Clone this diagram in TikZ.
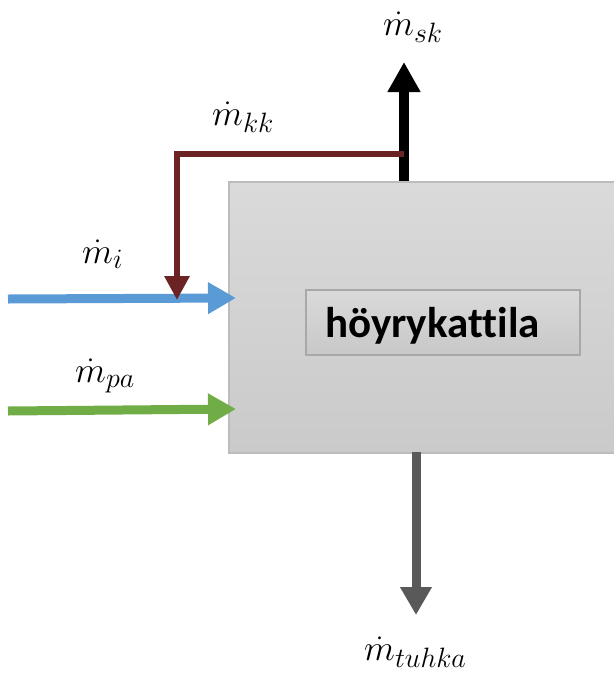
\RequirePackage{fix-cm}
\documentclass[tikz,border=0pt]{standalone}
\usepackage{fontspec}
\setsansfont[Ligatures=NoCommon]{Carlito}
\usetikzlibrary{arrows.meta}
\DeclareMathSizes{36}{36}{28}{20}
\definecolor{flowblue}{HTML}{5B9BD5}
\definecolor{flowgreen}{HTML}{70AD47}
\definecolor{recirc}{HTML}{6B2323}
\definecolor{ashgray}{HTML}{595959}
\tikzset{
  flow/.style={line width=9pt, -{Triangle[length=28pt,width=30pt]}},
  lbl/.style={font=\fontsize{36}{40}\selectfont, inner sep=0pt, anchor=base west},
}
\begin{document}
\begin{tikzpicture}[x=1pt,y=-1pt]
  \useasboundingbox (0,0) rectangle (614,673);
  % boiler body
  \node[draw={rgb,255:red,188;green,188;blue,188}, line width=1.5pt,
        top color={rgb,255:red,218;green,218;blue,218},
        bottom color={rgb,255:red,202;green,202;blue,202},
        minimum width=388pt, minimum height=271pt, inner sep=0pt,
        anchor=north west] (boiler) at (228,181) {};
  % name plate
  \node[draw={rgb,255:red,168;green,168;blue,168}, line width=1.5pt,
        top color={rgb,255:red,218;green,218;blue,218},
        bottom color={rgb,255:red,200;green,200;blue,200},
        minimum width=274pt, minimum height=65pt, inner sep=0pt,
        anchor=north west] (plate) at (305,289) {};
  \node[font=\sffamily\bfseries\fontsize{43}{47}\selectfont, anchor=base west,
        inner sep=0pt] (name) at (325,337) {höyrykattila};

  % inlet and outlet points
  \coordinate (inI)   at (8,299);
  \coordinate (inIt)  at (236,298);
  \coordinate (inPa)  at (8,411);
  \coordinate (inPat) at (236,409);
  \coordinate (skS)   at (404,181);
  \coordinate (skT)   at (404,62);
  \coordinate (tuS)   at (416,452);
  \coordinate (tuT)   at (416,615);
  \coordinate (kkS)   at (404,154);
  \coordinate (kkC)   at (177,154);
  \coordinate (kkT)   at (177,300);

  % fuel and combustion air
  \draw[flow, color=flowblue] (inI) -- (inIt);
  \draw[flow, color=flowgreen] (inPa) -- (inPat);
  % flue gas and ash
  \draw[line width=10pt, -{Triangle[length=30pt,width=31pt]}, color=black] (skS) -- (skT);
  \draw[flow, color=ashgray] (tuS) -- (tuT);
  % recirculation
  \draw[line width=6.5pt, recirc, -{Triangle[length=24pt,width=24pt]}]
    (kkS) -- (kkC) -- (kkT);

  % mass flow labels
  \node[lbl] (lsk) at (383,35) {$\dot m_{sk}$};
  \node[lbl] (lkk) at (212,125) {$\dot m_{kk}$};
  \node[lbl] (li) at (82,263) {$\dot m_{i}$};
  \node[lbl] (lpa) at (75,382) {$\dot m_{pa}$};
  \node[lbl] (ltu) at (364,660) {$\dot m_{tuhka}$};
\end{tikzpicture}
\end{document}
